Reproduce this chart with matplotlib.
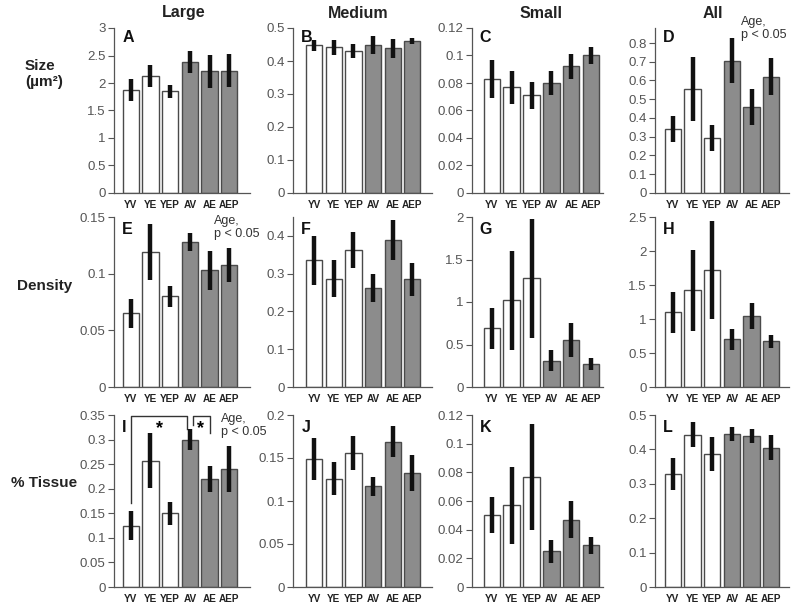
import matplotlib
matplotlib.use("Agg")
import matplotlib.pyplot as plt
import numpy as np

plt.rcParams["font.family"] = ["Liberation Sans", "DejaVu Sans"]

groups = ["YV", "YE", "YEP", "AV", "AE", "AEP"]
col_titles = ["Large", "Medium", "Small", "All"]
row_titles = ["Size\n(\u00b5m\u00b2)", "Density", "% Tissue"]
letters = list("ABCDEFGHIJKL")

# mean values, panels A..L
means = [
    [1.88, 2.12, 1.85, 2.38, 2.21, 2.22],
    [0.447, 0.441, 0.430, 0.449, 0.438, 0.461],
    [0.083, 0.077, 0.071, 0.080, 0.092, 0.100],
    [0.340, 0.555, 0.295, 0.705, 0.460, 0.620],
    [0.065, 0.119, 0.080, 0.128, 0.103, 0.108],
    [0.335, 0.287, 0.362, 0.262, 0.388, 0.285],
    [0.69, 1.02, 1.28, 0.31, 0.55, 0.27],
    [1.10, 1.42, 1.72, 0.70, 1.04, 0.67],
    [0.125, 0.257, 0.150, 0.300, 0.220, 0.240],
    [0.149, 0.126, 0.156, 0.117, 0.169, 0.133],
    [0.050, 0.057, 0.077, 0.025, 0.047, 0.029],
    [0.328, 0.443, 0.387, 0.445, 0.439, 0.405],
]
# error bar half-lengths
errs = [
    [0.20, 0.20, 0.12, 0.20, 0.30, 0.30],
    [0.018, 0.024, 0.022, 0.027, 0.028, 0.010],
    [0.014, 0.012, 0.010, 0.009, 0.009, 0.006],
    [0.070, 0.170, 0.070, 0.120, 0.095, 0.100],
    [0.013, 0.025, 0.009, 0.008, 0.017, 0.015],
    [0.065, 0.050, 0.048, 0.037, 0.053, 0.043],
    [0.24, 0.58, 0.70, 0.12, 0.20, 0.07],
    [0.30, 0.60, 0.72, 0.16, 0.19, 0.10],
    [0.030, 0.056, 0.023, 0.022, 0.026, 0.046],
    [0.024, 0.019, 0.020, 0.011, 0.018, 0.021],
    [0.0125, 0.027, 0.037, 0.008, 0.013, 0.006],
    [0.047, 0.037, 0.050, 0.020, 0.020, 0.037],
]
ytops = [3, 0.5, 0.12, 0.88, 0.15, 0.45, 2, 2.5, 0.35, 0.2, 0.12, 0.5]
yticks = [
    np.arange(0, 3.01, 0.5), np.arange(0, 0.51, 0.1), np.arange(0, 0.121, 0.02),
    np.arange(0, 0.81, 0.1), [0, 0.05, 0.1, 0.15], np.arange(0, 0.41, 0.1),
    np.arange(0, 2.01, 0.5), np.arange(0, 2.51, 0.5), np.arange(0, 0.351, 0.05),
    np.arange(0, 0.21, 0.05), np.arange(0, 0.121, 0.02), np.arange(0, 0.51, 0.1),
]
age_sig = ["D", "E", "I"]

W, H = 800, 609
fig = plt.figure(figsize=(8, 6.09), dpi=100)

col_x = [(114, 136), (293, 139), (472, 131), (655, 134)]
col_xlim = [(-0.85, 6.05), (-1.07, 6.0), (-1.0, 5.6), (-0.91, 5.9)]
row_y = [(28, 193), (217, 387), (415, 587)]
colors = ["white"] * 3 + ["#8c8c8c"] * 3
tick_col = "#555555"


def fmt(v):
    s = ("%.2f" % v).rstrip("0").rstrip(".")
    return s


x = np.arange(len(groups))
axes = []
for i in range(12):
    r, c = divmod(i, 4)
    left, w = col_x[c]
    top, bot = row_y[r]
    ax = fig.add_axes([left / W, 1 - bot / H, w / W, (bot - top) / H])
    ax.bar(x, means[i], width=0.83, color=colors, edgecolor="#4a4a4a", linewidth=1.0, zorder=2)
    ax.errorbar(x, means[i], yerr=errs[i], fmt="none", ecolor="#111111", elinewidth=3.2, capsize=0, zorder=3)
    ax.set_xlim(*col_xlim[c])
    ax.set_ylim(0, ytops[i])
    ax.set_yticks(yticks[i])
    ax.set_yticklabels([fmt(v) for v in yticks[i]], fontsize=9.5, color=tick_col)
    ax.set_xticks(x)
    ax.set_xticklabels(groups, fontsize=7.2, fontweight="bold", color="#222222")
    ax.tick_params(axis="x", length=0, pad=5)
    ax.tick_params(axis="y", length=4, width=0.8, color="#555555", pad=2)
    for s in ["top", "right"]:
        ax.spines[s].set_visible(False)
    for s in ["left", "bottom"]:
        ax.spines[s].set_color("#555555")
        ax.spines[s].set_linewidth(0.9)
    ax.text(0.06, 0.97 if r else 0.99, letters[i], transform=ax.transAxes, fontsize=11.5,
            fontweight="bold", va="top", ha="left", color="#111111")
    axes.append(ax)

# column titles
for px, t in zip([184, 358, 541, 713], col_titles):
    fig.text(px / W, 1 - 13 / H, t, fontsize=11.5, fontweight="bold",
             ha="center", va="center", color="#222222")

# row titles
fig.text(25 / W, 1 - 74 / H, row_titles[0], fontsize=11, fontweight="bold", ha="left",
         va="center", color="#222222", linespacing=1.15)
for (px, py), t in zip([(45, 286), (44, 483)], row_titles[1:]):
    fig.text(px / W, 1 - py / H, t, fontsize=11, fontweight="bold", ha="center", va="center",
             color="#222222")

# age annotations
for lab, (px, py) in zip(age_sig, [(741, 16), (214, 215), (221, 413)]):
    fig.text(px / W, 1 - py / H, "Age,\np < 0.05", fontsize=9, ha="left", va="top",
             color="#333333", linespacing=1.15)

# significance brackets in panel I
axI = axes[8]
yb = 0.347
axI.plot([0, 0, 2.85, 2.85], [0.17, yb, yb, 0.322], color="#333333", lw=1.0, clip_on=False)
axI.plot([3.15, 3.15, 4, 4], [0.33, yb, yb, 0.313], color="#333333", lw=1.0, clip_on=False)
axI.text(1.45, 0.322, "*", fontsize=13, fontweight="bold", ha="center", va="center")
axI.text(3.55, 0.322, "*", fontsize=13, fontweight="bold", ha="center", va="center")

fig.savefig("out.png", dpi=100, facecolor="white")
